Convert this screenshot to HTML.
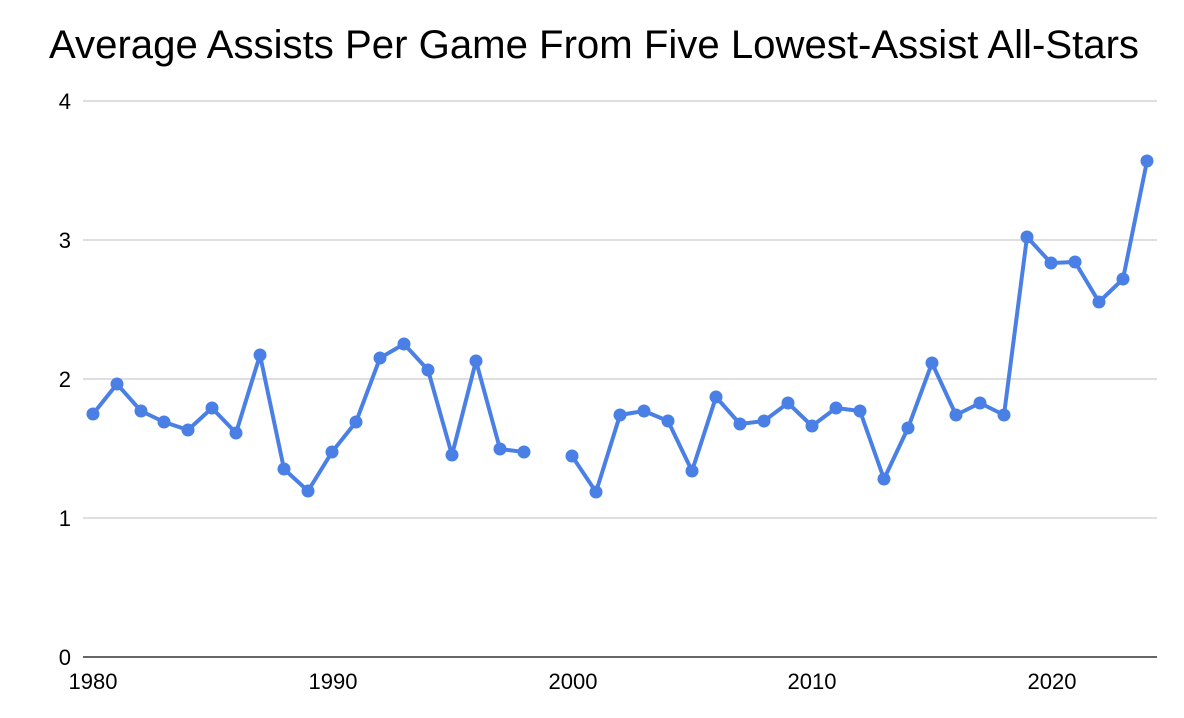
<!DOCTYPE html>
<html><head><meta charset="utf-8"><style>
html,body{margin:0;padding:0;background:#fff;}
svg{display:block;}
text{font-family:"Liberation Sans",Arial,sans-serif;fill:#000;}
</style></head><body>
<svg width="1184" height="718" viewBox="0 0 1184 718" xmlns="http://www.w3.org/2000/svg">
<text x="594" y="58" font-size="40" text-anchor="middle" textLength="1090" lengthAdjust="spacingAndGlyphs">Average Assists Per Game From Five Lowest-Assist All-Stars</text>
<g stroke="#cccccc" stroke-width="1.3">
<line x1="83" y1="101" x2="1157" y2="101"/>
<line x1="83" y1="240" x2="1157" y2="240"/>
<line x1="83" y1="379" x2="1157" y2="379"/>
<line x1="83" y1="518" x2="1157" y2="518"/>
</g>
<line x1="83" y1="657" x2="1157" y2="657" stroke="#333" stroke-width="1.5"/>
<g font-size="22" text-anchor="end">
<text x="71" y="109">4</text>
<text x="71" y="248">3</text>
<text x="71" y="387">2</text>
<text x="71" y="526">1</text>
<text x="71" y="665">0</text>
</g>
<g font-size="22" text-anchor="middle">
<text x="93" y="689">1980</text>
<text x="333" y="689">1990</text>
<text x="573" y="689">2000</text>
<text x="812" y="689">2010</text>
<text x="1052" y="689">2020</text>
</g>
<g fill="none" stroke="#4a80e6" stroke-width="4" stroke-linejoin="round">
<polyline points="93,414 117,384 141,411 164,422 188,430 212,408 236,433 260,355 284,469 308,491 332,452 356,422 380,358 404,344 428,370 452,455 476,361 500,449 524,452"/>
<polyline points="572,456 596,492 620,415 644,411 668,421 692,471 716,397 740,424 764,421 788,403 812,426 836,408 860,411 884,479 908,428 932,363 956,415 980,403 1004,415 1027,237 1051,263 1075,262 1099,302 1123,279 1147,161"/>
</g>
<g fill="#4a80e6">
<circle cx="93" cy="414" r="6.5"/><circle cx="117" cy="384" r="6.5"/><circle cx="141" cy="411" r="6.5"/><circle cx="164" cy="422" r="6.5"/><circle cx="188" cy="430" r="6.5"/><circle cx="212" cy="408" r="6.5"/><circle cx="236" cy="433" r="6.5"/><circle cx="260" cy="355" r="6.5"/><circle cx="284" cy="469" r="6.5"/><circle cx="308" cy="491" r="6.5"/><circle cx="332" cy="452" r="6.5"/><circle cx="356" cy="422" r="6.5"/><circle cx="380" cy="358" r="6.5"/><circle cx="404" cy="344" r="6.5"/><circle cx="428" cy="370" r="6.5"/><circle cx="452" cy="455" r="6.5"/><circle cx="476" cy="361" r="6.5"/><circle cx="500" cy="449" r="6.5"/><circle cx="524" cy="452" r="6.5"/>
<circle cx="572" cy="456" r="6.5"/><circle cx="596" cy="492" r="6.5"/><circle cx="620" cy="415" r="6.5"/><circle cx="644" cy="411" r="6.5"/><circle cx="668" cy="421" r="6.5"/><circle cx="692" cy="471" r="6.5"/><circle cx="716" cy="397" r="6.5"/><circle cx="740" cy="424" r="6.5"/><circle cx="764" cy="421" r="6.5"/><circle cx="788" cy="403" r="6.5"/><circle cx="812" cy="426" r="6.5"/><circle cx="836" cy="408" r="6.5"/><circle cx="860" cy="411" r="6.5"/><circle cx="884" cy="479" r="6.5"/><circle cx="908" cy="428" r="6.5"/><circle cx="932" cy="363" r="6.5"/><circle cx="956" cy="415" r="6.5"/><circle cx="980" cy="403" r="6.5"/><circle cx="1004" cy="415" r="6.5"/><circle cx="1027" cy="237" r="6.5"/><circle cx="1051" cy="263" r="6.5"/><circle cx="1075" cy="262" r="6.5"/><circle cx="1099" cy="302" r="6.5"/><circle cx="1123" cy="279" r="6.5"/><circle cx="1147" cy="161" r="6.5"/>
</g>
</svg>
</body></html>
